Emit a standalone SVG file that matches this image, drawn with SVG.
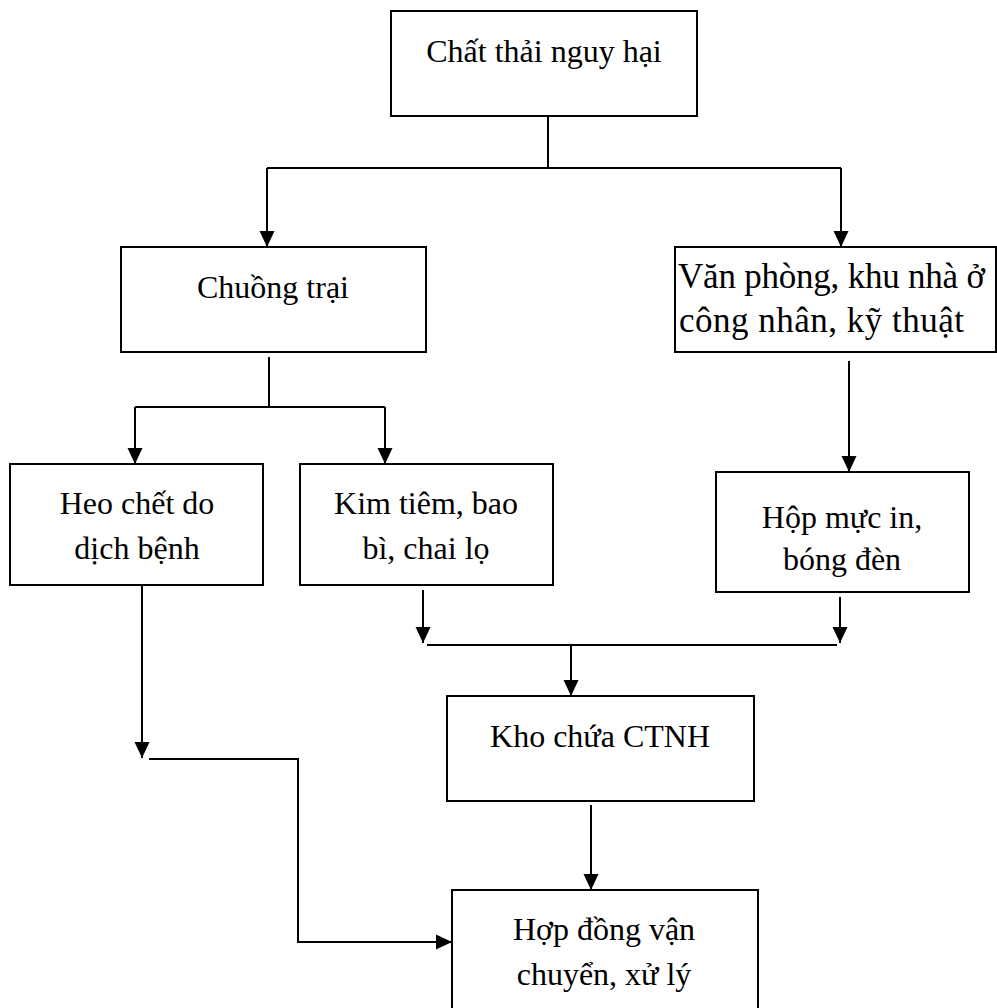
<svg xmlns="http://www.w3.org/2000/svg" width="997" height="1008" viewBox="0 0 997 1008">
  <style>
    .box { fill: #ffffff; stroke: #000000; stroke-width: 2; }
    .lbl { font-family: "Liberation Serif", "Times New Roman", serif; font-size: 32px; fill: #000000; text-anchor: middle; }
    .lbl-left { font-family: "Liberation Serif", "Times New Roman", serif; font-size: 35px; fill: #000000; text-anchor: start; }
    .wire { fill: none; stroke: #000000; stroke-width: 2; }
    .arrow { fill: none; stroke: #000000; stroke-width: 2; marker-end: url(#head); }
  </style>
  <defs>
    <marker id="head" markerUnits="userSpaceOnUse" markerWidth="16" markerHeight="16" viewBox="0 0 16 16" refX="16" refY="8" orient="auto">
      <path d="M0,0.5 L16,8 L0,15.5 Z" fill="#000000"/>
    </marker>
  </defs>
  <rect width="997" height="1008" fill="#ffffff"/>

  <g id="n-chat-thai">
    <rect class="box" x="391" y="11" width="306" height="105"/>
    <text class="lbl" x="544" y="62">Chất thải nguy hại</text>
  </g>

  <g id="n-chuong-trai">
    <rect class="box" x="121" y="247" width="305" height="105"/>
    <text class="lbl" x="273" y="298">Chuồng trại</text>
  </g>

  <g id="n-van-phong">
    <rect class="box" x="675" y="247" width="321" height="105"/>
    <text class="lbl-left" x="678" y="288" textLength="307" lengthAdjust="spacing">Văn phòng, khu nhà ở</text>
    <text class="lbl-left" x="679" y="332" textLength="285" lengthAdjust="spacing">công nhân, kỹ thuật</text>
  </g>

  <g id="n-heo-chet">
    <rect class="box" x="10" y="464" width="253" height="121"/>
    <text class="lbl" x="137" y="514">Heo chết do</text>
    <text class="lbl" x="137" y="559">dịch bệnh</text>
  </g>

  <g id="n-kim-tiem">
    <rect class="box" x="300" y="464" width="253" height="121"/>
    <text class="lbl" x="426" y="514">Kim tiêm, bao</text>
    <text class="lbl" x="426" y="559">bì, chai lọ</text>
  </g>

  <g id="n-hop-muc">
    <rect class="box" x="716" y="472" width="253" height="120"/>
    <text class="lbl" x="842" y="528">Hộp mực in,</text>
    <text class="lbl" x="842" y="570">bóng đèn</text>
  </g>

  <g id="n-kho-chua">
    <rect class="box" x="447" y="696" width="307" height="105"/>
    <text class="lbl" x="600" y="747">Kho chứa CTNH</text>
  </g>

  <g id="n-hop-dong">
    <rect class="box" x="452" y="890" width="306" height="130"/>
    <text class="lbl" x="604" y="940">Hợp đồng vận</text>
    <text class="lbl" x="604" y="985">chuyển, xử lý</text>
  </g>

  <g id="connectors">
    <!-- split below the top node -->
    <path class="wire" d="M548,116 V168 M267,168 H841"/>
    <path class="arrow" d="M267,168 V247"/>
    <path class="arrow" d="M841,168 V247"/>
    <!-- split below the barn node -->
    <path class="wire" d="M269,357 V407 M135,407 H385"/>
    <path class="arrow" d="M135,407 V464"/>
    <path class="arrow" d="M385,407 V464"/>
    <!-- office to cartridges -->
    <path class="arrow" d="M849,361 V472"/>
    <!-- dead pigs route -->
    <path class="arrow" d="M142,585 V758"/>
    <path class="arrow" d="M149,759 H298 V942 H452"/>
    <!-- merge into storage -->
    <path class="arrow" d="M423,590 V643"/>
    <path class="arrow" d="M840,597 V643"/>
    <path class="wire" d="M427,645 H837"/>
    <path class="arrow" d="M571,645 V696"/>
    <!-- storage to contract -->
    <path class="arrow" d="M591,805 V890"/>
  </g>
</svg>
